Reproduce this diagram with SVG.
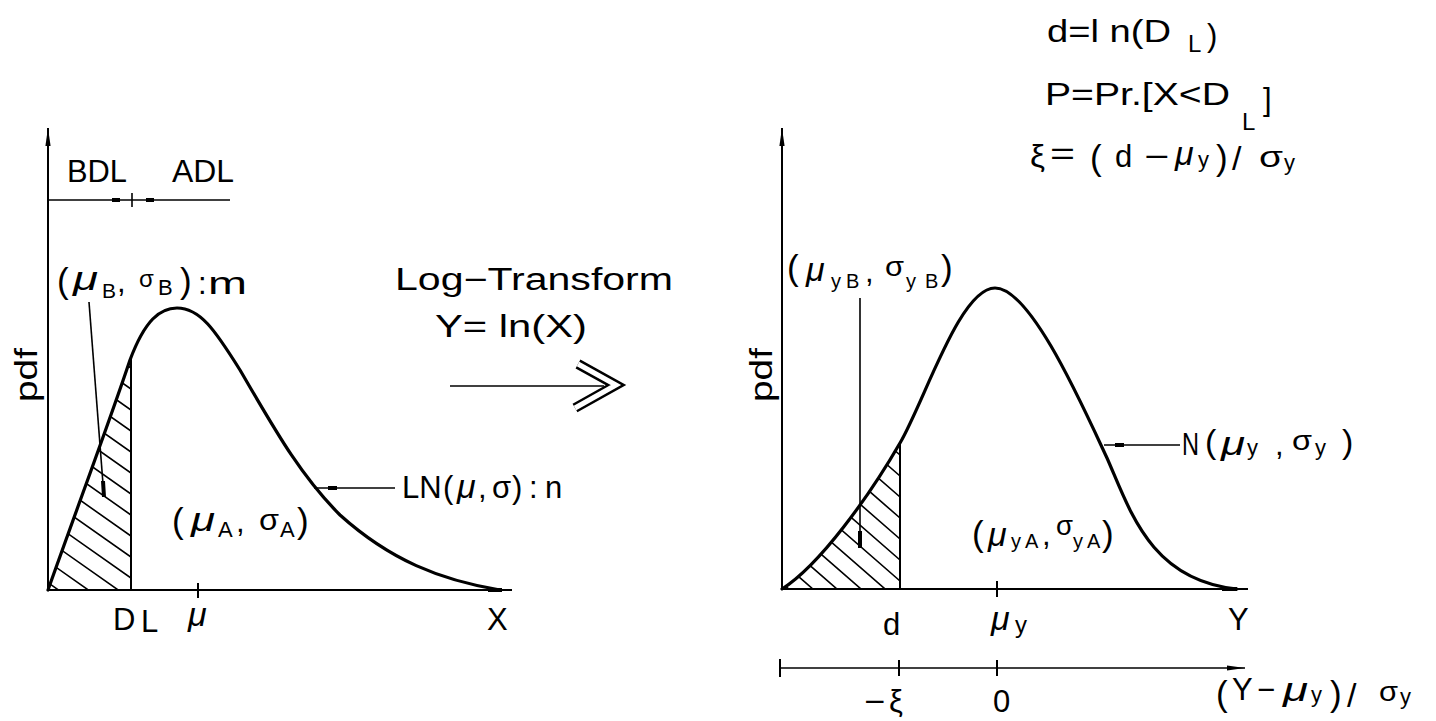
<svg xmlns="http://www.w3.org/2000/svg" width="1436" height="721" viewBox="0 0 1436 721">
<style>
  text { font-family: "Liberation Sans", Arial, sans-serif; font-size: 31px; fill: #000; }
  .it { font-style: italic; font-size: 34px; }
  .ax { stroke: #000; stroke-width: 2; fill: none; }
  .thin { stroke: #000; stroke-width: 1.6; fill: none; }
  .curve { stroke: #000; stroke-width: 3.2; fill: none; stroke-linecap: round; }
  .hatch { stroke: #000; stroke-width: 1.6; fill: none; }
  .bold { stroke: #000; stroke-width: 4; fill: none; }
</style>
<defs>
  <marker id="axArrow" viewBox="0 -3 18 6" refX="18" refY="0" markerWidth="18" markerHeight="6" markerUnits="userSpaceOnUse" orient="auto">
    <path d="M0,-2.6 L18,0 L0,2.6 Z" fill="#000"/>
  </marker>
  <clipPath id="clipL">
    <path d="M48,590 C80,500 110,420 130,360 L131,355 L131,590 Z"/>
  </clipPath>
  <clipPath id="clipR">
    <path d="M782,589 C820,565 870,495 900,443 L900,589 Z"/>
  </clipPath>
</defs>
<rect width="1436" height="721" fill="#fff"/>

<g id="left-plot">
  <line class="ax" x1="48" y1="590" x2="48" y2="128" marker-end="url(#axArrow)"/>
  <line class="ax" x1="48" y1="590" x2="512" y2="590"/>
  <line class="ax" x1="198" y1="583" x2="198" y2="598"/>
  <g clip-path="url(#clipL)">
    <path class="hatch" d="M40,304 L131,368 M40,325 L131,389 M40,346 L131,410 M40,367 L131,431 M40,388 L131,452 M40,409 L131,473 M40,430 L131,494 M40,451 L131,515 M40,472 L131,536 M40,493 L131,557 M40,514 L131,578 M40,535 L131,599 M40,556 L131,620 M40,577 L131,641 M40,598 L131,662"/>
  </g>
  <line class="ax" x1="131" y1="590" x2="131" y2="356"/>
  <path class="curve" d="M48,590 C80,500 110,420 130,360 C145,320 160,308 177,308 C200,308 215,330 240,370 C275,430 300,475 340,515 C390,560 440,580 500,590"/>
  <rect x="488" y="588" width="14" height="4" fill="#000"/>
  <text transform="translate(37,375) rotate(-90)" text-anchor="middle" font-size="28" textLength="54" lengthAdjust="spacingAndGlyphs">pdf</text>
  <text x="113" y="630">D</text>
  <text x="141" y="632" font-size="22">L</text>
  <text x="188" y="626" class="it">μ</text>
  <text x="487" y="630">X</text>
</g>

<g id="dl-scale">
  <text x="67" y="182" textLength="60" lengthAdjust="spacingAndGlyphs">BDL</text>
  <text x="172" y="182" textLength="62" lengthAdjust="spacingAndGlyphs">ADL</text>
  <line class="thin" x1="48" y1="200" x2="230" y2="200"/>
  <rect x="112" y="198" width="8" height="4" fill="#000"/>
  <rect x="146" y="198" width="8" height="4" fill="#000"/>
  <line class="thin" x1="132" y1="193" x2="132" y2="207"/>
</g>

<g id="label-B">
  <text><tspan x="57" y="293" font-size="35">(</tspan><tspan x="73" y="290" class="it" textLength="25" lengthAdjust="spacingAndGlyphs">μ</tspan><tspan x="102" y="298" font-size="21">B</tspan><tspan x="117" y="292">,</tspan><tspan x="139" y="287" font-size="24">σ</tspan><tspan x="158" y="295" font-size="22">B</tspan><tspan x="180" y="293" font-size="35">)</tspan><tspan x="198" y="294">:</tspan><tspan x="208" y="294" textLength="39" lengthAdjust="spacingAndGlyphs">m</tspan></text>
</g>

<g id="label-A">
  <text><tspan x="172" y="533" font-size="35">(</tspan><tspan x="191" y="531" class="it" textLength="24" lengthAdjust="spacingAndGlyphs">μ</tspan><tspan x="218" y="537" font-size="22">A</tspan><tspan x="236" y="532">,</tspan><tspan x="259" y="530" font-size="30" textLength="20" lengthAdjust="spacingAndGlyphs">σ</tspan><tspan x="280" y="537" font-size="22">A</tspan><tspan x="297" y="533" font-size="35">)</tspan></text>
</g>

<g id="label-LN">
  <text><tspan x="402" y="498">LN</tspan><tspan x="443" y="498">(</tspan><tspan x="457" y="498" class="it" font-size="31">μ</tspan><tspan x="478" y="498">,</tspan><tspan x="492" y="498">σ</tspan><tspan x="512" y="498">)</tspan><tspan x="529" y="498">:</tspan><tspan x="545" y="498">n</tspan></text>
</g>

<g id="transform">
  <text x="395" y="290" textLength="278" lengthAdjust="spacingAndGlyphs">Log−Transform</text>
  <text x="435" y="337" textLength="152" lengthAdjust="spacingAndGlyphs">Y= ln(X)</text>
</g>

<g id="right-plot">
  <line class="ax" x1="782" y1="589" x2="782" y2="128" marker-end="url(#axArrow)"/>
  <line class="ax" x1="782" y1="589" x2="1248" y2="589"/>
  <line class="ax" x1="997" y1="581" x2="997" y2="597"/>
  <g clip-path="url(#clipR)">
    <path class="hatch" d="M775,346 L900,455 M775,367 L900,476 M775,388 L900,497 M775,409 L900,518 M775,430 L900,539 M775,451 L900,560 M775,472 L900,581 M775,493 L900,602 M775,514 L900,623 M775,535 L900,644 M775,556 L900,665 M775,577 L900,686 M775,598 L900,707"/>
  </g>
  <line class="ax" x1="900" y1="589" x2="900" y2="443"/>
  <path class="curve" stroke-width="3.6" d="M782,589 C820,565 870,495 900,443 C925,400 960,288 995,288 C1030,288 1080,400 1107,458 C1130,510 1150,580 1237,589"/>
  <rect x="1222" y="587" width="15" height="4" fill="#000"/>
  <text transform="translate(772,375) rotate(-90)" text-anchor="middle" font-size="28" textLength="54" lengthAdjust="spacingAndGlyphs">pdf</text>
  <text x="883" y="635">d</text>
  <text><tspan x="991" y="630" class="it">μ</tspan><tspan x="1015" y="633" font-size="24">y</tspan></text>
  <text x="1228" y="630">Y</text>
</g>

<g id="std-scale">
  <line class="thin" x1="780" y1="668" x2="1245" y2="668" marker-end="url(#axArrow)"/>
  <line class="ax" x1="780" y1="659" x2="780" y2="677"/>
  <line class="ax" x1="899" y1="660" x2="899" y2="676"/>
  <line class="ax" x1="997" y1="660" x2="997" y2="676"/>
  <text><tspan x="864" y="712" textLength="21" lengthAdjust="spacingAndGlyphs">−</tspan><tspan x="889" y="712">ξ</tspan></text>
  <text x="993" y="712">0</text>
  <text><tspan x="1216" y="706" font-size="35">(</tspan><tspan x="1232" y="700">Y</tspan><tspan x="1257" y="700">−</tspan><tspan x="1283" y="701" class="it" textLength="25" lengthAdjust="spacingAndGlyphs">μ</tspan><tspan x="1311" y="702" font-size="22">y</tspan><tspan x="1330" y="706" font-size="35">)</tspan><tspan x="1347" y="707" font-size="34">/</tspan><tspan x="1379" y="701" font-size="28" textLength="19" lengthAdjust="spacingAndGlyphs">σ</tspan><tspan x="1400" y="704" font-size="22">y</tspan></text>
</g>

<g id="label-yB">
  <text><tspan x="787" y="280" font-size="35">(</tspan><tspan x="806" y="281" class="it">μ</tspan><tspan x="831" y="288" font-size="20">y</tspan><tspan x="846" y="288" font-size="20">B</tspan><tspan x="865" y="282">,</tspan><tspan x="885" y="276" font-size="28" textLength="19" lengthAdjust="spacingAndGlyphs">σ</tspan><tspan x="906" y="288" font-size="20">y</tspan><tspan x="925" y="288" font-size="20">B</tspan><tspan x="941" y="280" font-size="35">)</tspan></text>
</g>

<g id="label-yA">
  <text><tspan x="972" y="546" font-size="35">(</tspan><tspan x="988" y="546" class="it">μ</tspan><tspan x="1011" y="548" font-size="20">y</tspan><tspan x="1025" y="548" font-size="20">A</tspan><tspan x="1042" y="545">,</tspan><tspan x="1056" y="535" font-size="28" textLength="17" lengthAdjust="spacingAndGlyphs">σ</tspan><tspan x="1073" y="548" font-size="20">y</tspan><tspan x="1087" y="548" font-size="20">A</tspan><tspan x="1102" y="546" font-size="35">)</tspan></text>
</g>

<g id="label-N">
  <text><tspan x="1182" y="455" textLength="17" lengthAdjust="spacingAndGlyphs">N</tspan><tspan x="1205" y="453" font-size="34">(</tspan><tspan x="1221" y="455" class="it" textLength="24" lengthAdjust="spacingAndGlyphs">μ</tspan><tspan x="1247" y="455" font-size="22">y</tspan><tspan x="1275" y="455">,</tspan><tspan x="1292" y="450" font-size="28" textLength="20" lengthAdjust="spacingAndGlyphs">σ</tspan><tspan x="1315" y="455" font-size="22">y</tspan><tspan x="1342" y="453" font-size="34">)</tspan></text>
</g>

<g id="formulas">
  <text><tspan x="1047" y="42" textLength="124" lengthAdjust="spacingAndGlyphs">d=l n(D</tspan><tspan x="1188" y="52" font-size="24">L</tspan><tspan x="1207" y="46">)</tspan></text>
  <text><tspan x="1045" y="105" textLength="185" lengthAdjust="spacingAndGlyphs">P=Pr.[X&lt;D</tspan><tspan x="1242" y="130" font-size="24">L</tspan><tspan x="1263" y="110">]</tspan></text>
  <text><tspan x="1030" y="167" textLength="15" lengthAdjust="spacingAndGlyphs">ξ</tspan><tspan x="1050" y="164" textLength="25" lengthAdjust="spacingAndGlyphs">=</tspan><tspan x="1090" y="170" font-size="35">(</tspan><tspan x="1115" y="167">d</tspan><tspan x="1144" y="167" textLength="25" lengthAdjust="spacingAndGlyphs">−</tspan><tspan x="1175" y="165" class="it">μ</tspan><tspan x="1198" y="167" font-size="22">y</tspan><tspan x="1216" y="170" font-size="35">)</tspan><tspan x="1232" y="170" font-size="34">/</tspan><tspan x="1259" y="167" font-size="30" textLength="24" lengthAdjust="spacingAndGlyphs">σ</tspan><tspan x="1284" y="170" font-size="22">y</tspan></text>
</g>

<g id="connectors">
  <line class="thin" x1="89" y1="302" x2="104" y2="497"/>
  <line class="bold" x1="103" y1="481" x2="104" y2="497"/>
  <line class="thin" x1="860" y1="298" x2="860" y2="548"/>
  <line class="bold" x1="860" y1="531" x2="860" y2="548"/>
  <line class="thin" x1="395" y1="488" x2="314" y2="488"/>
  <rect x="328" y="486" width="9" height="4" fill="#000"/>
  <line class="thin" x1="1180" y1="445" x2="1104" y2="445"/>
  <rect x="1115" y="443" width="9" height="4" fill="#000"/>
  <line class="thin" x1="450" y1="386" x2="604" y2="386"/>
  <polyline points="578,364 616,385 575,408" fill="none" stroke="#000" stroke-width="10" stroke-linejoin="miter"/>
  <polyline points="578,364 616,385 575,408" fill="none" stroke="#fff" stroke-width="5" stroke-linejoin="miter"/>
</g>
</svg>
